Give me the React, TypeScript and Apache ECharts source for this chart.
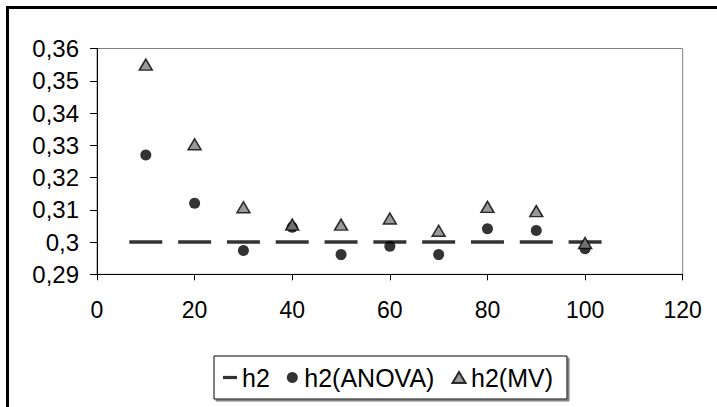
import React, { useEffect, useRef } from "react";
import * as echarts from "echarts";

const xValues = [10, 20, 30, 40, 50, 60, 70, 80, 90, 100];
const h2 = [0.3, 0.3, 0.3, 0.3, 0.3, 0.3, 0.3, 0.3, 0.3, 0.3];
const h2Anova = [0.327, 0.312, 0.2974, 0.3046, 0.2961, 0.2987, 0.2961, 0.3041, 0.3036, 0.2979];
const h2MV = [0.355, 0.3303, 0.3108, 0.3054, 0.3054, 0.3073, 0.3035, 0.3109, 0.3096, 0.2997];
const seriesNames = ["h2", "h2(ANOVA)", "h2(MV)"];

const FONT = "'Liberation Sans', Arial, sans-serif";

export default function App() {
  const ref = useRef<HTMLDivElement>(null);
  useEffect(() => {
    if (!ref.current) return;
    const chart = echarts.init(ref.current, null, { renderer: "svg" });
    const pair = (ys: number[]) => xValues.map((x, i) => [x, ys[i]]);
    chart.setOption({
      animation: false,
      backgroundColor: "#fff",
      textStyle: { fontFamily: FONT },
      grid: {
        left: 97,
        top: 48.5,
        right: 34.3,
        bottom: 132.7,
        show: true,
        borderColor: "#808080",
        borderWidth: 1,
      },
      xAxis: {
        type: "value",
        min: 0,
        max: 120,
        interval: 20,
        splitLine: { show: false },
        axisLine: { show: true, onZero: false, lineStyle: { color: "#000", width: 1 } },
        axisTick: { show: true, length: 6, lineStyle: { color: "#000" } },
        axisLabel: { color: "#000", fontSize: 23, fontFamily: FONT, margin: 24 },
      },
      yAxis: {
        type: "value",
        min: 0.29,
        max: 0.36,
        interval: 0.01,
        splitLine: { show: false },
        axisLine: { show: true, onZero: false, lineStyle: { color: "#000", width: 1 } },
        axisTick: { show: true, length: 7, lineStyle: { color: "#000" } },
        axisLabel: {
          color: "#000",
          fontSize: 24,
          fontFamily: FONT,
          margin: 18,
          formatter: (v: number) => String(Math.round(v * 100) / 100).replace(".", ","),
        },
      },
      legend: {
        left: 214,
        top: 356,
        orient: "horizontal",
        backgroundColor: "#fff",
        borderColor: "#000",
        borderWidth: 1,
        shadowColor: "#808080",
        shadowOffsetX: 2,
        shadowOffsetY: 2,
        shadowBlur: 0,
        padding: [9, 14, 9, 9],
        itemGap: 17,
        itemWidth: 14,
        itemHeight: 11,
        textStyle: { color: "#000", fontSize: 25, fontFamily: FONT },
        data: [
          { name: seriesNames[0], icon: "path://M0,0h13v3h-13z" },
          { name: seriesNames[1], icon: "circle" },
          { name: seriesNames[2], icon: "path://M6,0L12,10L0,10Z" },
        ],
      },
      graphic: [
        {
          type: "polyline",
          shape: { points: [[7.5, 420], [7.5, 7.5], [730, 7.5]] },
          style: { stroke: "#000", lineWidth: 3, fill: null },
          silent: true,
        },
      ],
      series: [
        {
          name: seriesNames[0],
          type: "scatter",
          data: pair(h2),
          symbol: "rect",
          symbolSize: [33, 3.5],
          itemStyle: { color: "#000" },
          z: 2,
        },
        {
          name: seriesNames[1],
          type: "scatter",
          data: pair(h2Anova),
          symbol: "circle",
          symbolSize: 11,
          itemStyle: { color: "#000" },
          z: 3,
        },
        {
          name: seriesNames[2],
          type: "scatter",
          data: pair(h2MV),
          symbol: "triangle",
          symbolSize: [13, 11],
          itemStyle: { color: "#808080", borderColor: "#000", borderWidth: 1.5 },
          z: 4,
        },
      ],
    });
    return () => chart.dispose();
  }, []);
  return <div ref={ref} style={{ width: 717, height: 407, position: "absolute", left: 0, top: 0 }} />;
}
